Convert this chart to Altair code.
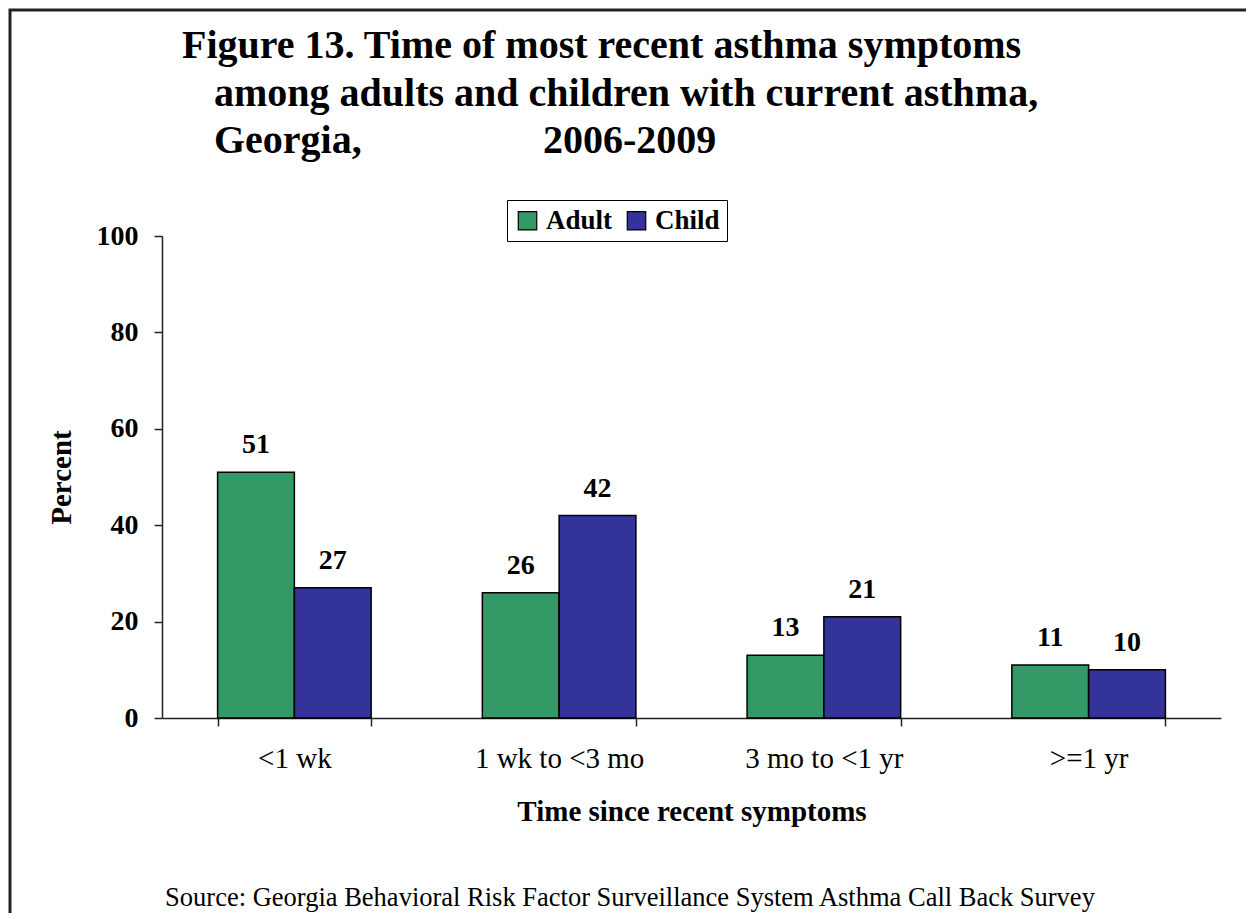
import altair as alt
import pandas as pd

categories = ["<1 wk", "1 wk to <3 mo", "3 mo to <1 yr", ">=1 yr"]
series = ["Adult", "Child"]
adult = [51, 26, 13, 11]
child = [27, 42, 21, 10]
colors = ["#339966", "#333399"]

title_lines = [
    "Figure 13. Time of most recent asthma symptoms",
    "among adults and children with current asthma,",
    "Georgia,",
    "2006-2009",
]
source_text = "Source: Georgia Behavioral Risk Factor Surveillance System Asthma Call Back Survey"

rows = []
for c, a, ch in zip(categories, adult, child):
    rows.append({"cat": c, "group": series[0], "value": a})
    rows.append({"cat": c, "group": series[1], "value": ch})
df = pd.DataFrame(rows)
one = pd.DataFrame({"k": [0]})

FONT = "Liberation Serif"
W, H = 1059, 482

x_enc = alt.X(
    "cat:N", sort=categories, title="Time since recent symptoms",
    scale=alt.Scale(paddingInner=0.42, paddingOuter=0.21),
    axis=alt.Axis(
        labelAngle=0, tickBand="extent", ticks=True, tickSize=8,
        labelFont=FONT, labelFontSize=29, labelFontWeight="normal", labelColor="black",
        labelPadding=18, titleFont=FONT, titleFontSize=29, titleFontWeight="bold",
        titleColor="black", titlePadding=24, domainColor="#222", tickColor="#222",
        domainWidth=1.5, tickWidth=1.5, grid=False,
    ),
)
y_enc = alt.Y(
    "value:Q", title="Percent",
    scale=alt.Scale(domain=[0, 100], nice=False),
    axis=alt.Axis(
        values=[0, 20, 40, 60, 80, 100], tickSize=8, labelPadding=16,
        labelFont=FONT, labelFontSize=28, labelFontWeight="bold", labelColor="black",
        titleFont=FONT, titleFontSize=29, titleFontWeight="bold", titleColor="black",
        titlePadding=20, domainColor="#222", tickColor="#222",
        domainWidth=1.5, tickWidth=1.5, grid=False,
    ),
)
xo = alt.XOffset("group:N", sort=series, scale=alt.Scale(paddingInner=0, paddingOuter=0))

bars = alt.Chart(df).mark_bar(stroke="black", strokeWidth=1.5).encode(
    x=x_enc, y=y_enc, xOffset=xo,
    color=alt.Color(
        "group:N", sort=series, scale=alt.Scale(domain=series, range=colors),
        legend=alt.Legend(
            title=None, orient="none", legendX=345, legendY=-36, direction="horizontal",
            symbolType="square", symbolSize=340, symbolStrokeColor="black",
            symbolStrokeWidth=1.2, symbolOpacity=1,
            labelFont=FONT, labelFontSize=27, labelFontWeight="bold", labelColor="black",
            strokeColor="black", fillColor="white", padding=7, columnPadding=10,
            labelOffset=5,
        ),
    ),
)
labels = alt.Chart(df).mark_text(
    font=FONT, fontSize=28, fontWeight="bold", color="black", baseline="bottom", dy=-13
).encode(x=alt.X("cat:N", sort=categories), y="value:Q", xOffset=xo, text="value:Q")

def txt(s, xv, yv, size, weight, align="left"):
    return alt.Chart(one).mark_text(
        text=s, font=FONT, fontSize=size, fontWeight=weight, color="black",
        align=align, baseline="alphabetic",
    ).encode(x=alt.value(xv), y=alt.value(yv))

# page coords -> plot coords: x - 162, y - 236
t1 = txt(title_lines[0], 182 - 162, 58 - 236, 40, "bold")
t2 = txt(title_lines[1], 214 - 162, 106 - 236, 40, "bold")
t3 = txt(title_lines[2], 214 - 162, 153 - 236, 40, "bold")
t4 = txt(title_lines[3], 543 - 162, 153 - 236, 40, "bold")
src = txt(source_text, 630 - 162, 906 - 236, 26.5, "normal", align="center")

frame = alt.Chart(one).mark_rect(filled=False, stroke="#222", strokeWidth=3).encode(
    x=alt.value(10 - 162), y=alt.value(10 - 236), x2=alt.value(1300), y2=alt.value(900)
)

chart = alt.layer(frame, bars, labels, t1, t2, t3, t4, src).properties(
    width=W, height=H,
    background="white",
    autosize=alt.AutoSizeParams(type="none"),
    padding={"left": 154, "top": 228, "right": 25, "bottom": 195},
).configure_view(stroke=None, strokeWidth=0)

chart.save("out.html", embed_options={"renderer": "svg", "actions": False})
